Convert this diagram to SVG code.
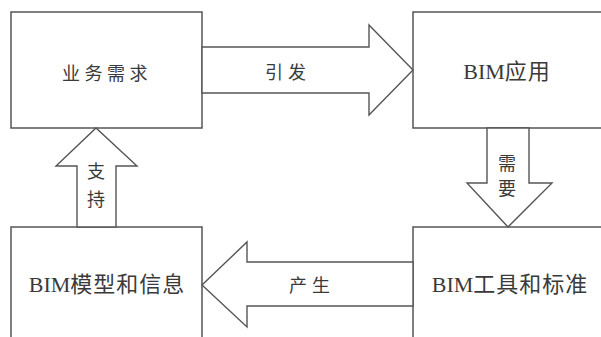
<svg xmlns="http://www.w3.org/2000/svg" width="601" height="337" viewBox="0 0 601 337">
<style>
.box{fill:#fff;stroke:#555;stroke-width:1.5}
.arr{fill:#fff;stroke:#555;stroke-width:1.4;stroke-linejoin:miter}
.t{font-family:"Liberation Serif","Noto Sans CJK SC",serif;font-size:22px;fill:#3a3a3a;text-anchor:middle}
.c{font-family:"Noto Sans CJK SC","Liberation Serif",sans-serif;font-size:18px;fill:#3a3a3a;text-anchor:middle}
</style>
<rect width="601" height="337" fill="#fff"/>
<g id="n-yewu">
<rect class="box" x="11" y="12" width="191" height="116"/>
<text class="c" x="107" y="80" letter-spacing="4.5">业务需求</text>
</g>
<g id="n-bimapp">
<rect class="box" x="413" y="12" width="220" height="116"/>
<text class="t" x="507" y="79">BIM<tspan letter-spacing="1">应用</tspan></text>
</g>
<g id="n-bimmodel">
<rect class="box" x="11" y="227" width="191" height="130"/>
<text class="t" x="107" y="292">BIM<tspan letter-spacing="1">模型和信息</tspan></text>
</g>
<g id="n-bimtool">
<rect class="box" x="413" y="227" width="220" height="130"/>
<text class="t" x="510" y="292">BIM<tspan letter-spacing="1">工具和标准</tspan></text>
</g>
<g id="connectors">
<g id="e-yinfa">
<polygon class="arr" points="202,47 369,47 369,25 413,70 369,115 369,93 202,93"/>
<text class="c" x="288" y="79" letter-spacing="5">引发</text>
</g>
<g id="e-chansheng">
<polygon class="arr" points="413,262 247,262 247,242 202,285 247,327 247,306 413,306"/>
<text class="c" x="312" y="292" letter-spacing="5">产生</text>
</g>
<g id="e-zhichi">
<polygon class="arr" points="77,227 77,166 56,166 96,128 137,166 116,166 116,227"/>
<text class="c" x="96" y="178">支</text>
<text class="c" x="96" y="206">持</text>
</g>
<g id="e-xuyao">
<polygon class="arr" points="487,128 487,183 467,183 508,227 552,183 529,183 529,128"/>
<text class="c" x="507" y="170">需</text>
<text class="c" x="507" y="195">要</text>
</g>
</g>
</svg>
